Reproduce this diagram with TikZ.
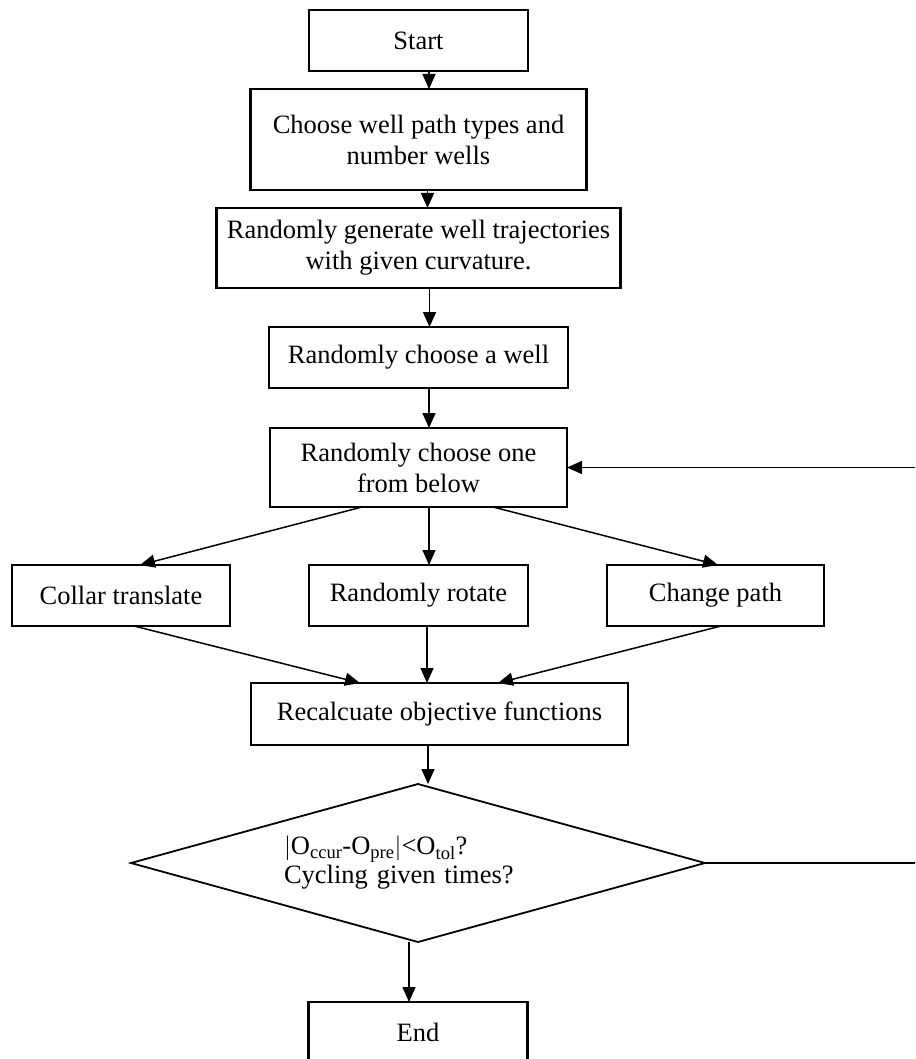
\documentclass[tikz,border=0pt]{standalone}
\usepackage{fontspec}
\setmainfont{Liberation Serif}
\usetikzlibrary{arrows.meta, positioning, shapes.geometric, calc}

\begin{document}
\begin{tikzpicture}[
        x=1pt, y=-1pt,
        block/.style={rectangle, draw, line width=2.4pt, outer sep=0pt, align=center, font=\fontsize{26.5pt}{31pt}\selectfont},
        arr/.style={line width=1.5pt, -{Triangle[length=15pt, width=13pt]}},
        node distance=40pt and 79pt
    ]

    \tikzstyle{decision} = [draw, diamond, line width=1.8pt, outer sep=0pt, aspect=3.6, inner sep=0pt, minimum width=574pt, minimum height=158pt, align=left, text width=268pt, font=\fontsize{26.5pt}{29pt}\selectfont]

    \useasboundingbox (0,0) rectangle (915,1059);
    \clip (0,0) rectangle (915,1059);

    \node[block, minimum width=219pt, minimum height=61pt] (start) at (418.5,40.5) {Start};
    \node[block, below=18pt of start, minimum width=336pt, minimum height=101pt] (types) {Choose well path types and\\number wells};
    \node[block, below=18pt of types, minimum width=404pt, minimum height=80pt] (gen) {Randomly generate well trajectories\\with given curvature.};
    \node[block, below=39pt of gen, minimum width=299pt, minimum height=61pt] (well) {Randomly choose a well};
    \node[block, below=of well, minimum width=297pt, minimum height=79pt] (one) {Randomly choose one\\from below};
    \node[block, below=58pt of one, minimum width=219pt, minimum height=61pt] (rot) {Randomly rotate};
    \node[block, left=of rot, minimum width=218pt, minimum height=61pt] (col) {Collar translate};
    \node[block, right=of rot, minimum width=217pt, minimum height=61pt] (chg) {Change path};
    \node[block, below=57pt of rot, xshift=21pt, minimum width=377pt, minimum height=62pt] (recalc) {Recalcuate objective functions};
    \node[decision, below=39pt of recalc, xshift=-21.5pt] (check) {$|$O\textsubscript{ccur}-O\textsubscript{pre}$|$<O\textsubscript{tol}?\\Cycling given times?};
    \node[block, below=60pt of check, minimum width=219pt, minimum height=61pt] (finish) {End};
    \coordinate (loop) at (918,660);

    \draw[arr] ([xshift=10.5pt]start.south) -- ([xshift=10.5pt]start.south |- types.north);
    \draw[arr] ([xshift=9pt]types.south) -- ([xshift=9pt]types.south |- gen.north);
    \draw[arr] ([xshift=11pt]gen.south) -- ([xshift=11pt]gen.south |- well.north);
    \draw[arr] ([xshift=10.5pt]well.south) -- ([xshift=10.5pt]well.south |- one.north);
    \draw[arr] ([xshift=-56.5pt]one.south) -- ([xshift=19pt]col.north);
    \draw[arr] ([xshift=10.5pt]one.south) -- ([xshift=10.5pt]one.south |- rot.north);
    \draw[arr] ([xshift=74.5pt]one.south) -- ([xshift=2.5pt]chg.north);
    \draw[arr] ([xshift=13pt]col.south) -- ([xshift=-79.5pt]recalc.north);
    \draw[arr] ([xshift=8.5pt]rot.south) -- ([xshift=8.5pt]rot.south |- recalc.north);
    \draw[arr] ([xshift=5.5pt]chg.south) -- ([xshift=58.5pt]recalc.north);
    \draw[arr] ([xshift=-11.5pt]recalc.south) -- ([xshift=-11.5pt]recalc.south |- check.north);
    \draw[arr] ([xshift=-9pt]check.south) -- ([xshift=-9pt]check.south |- finish.north);
    \draw[arr] (check.east) -| (loop) |- (one.east);

\end{tikzpicture}
\end{document}
